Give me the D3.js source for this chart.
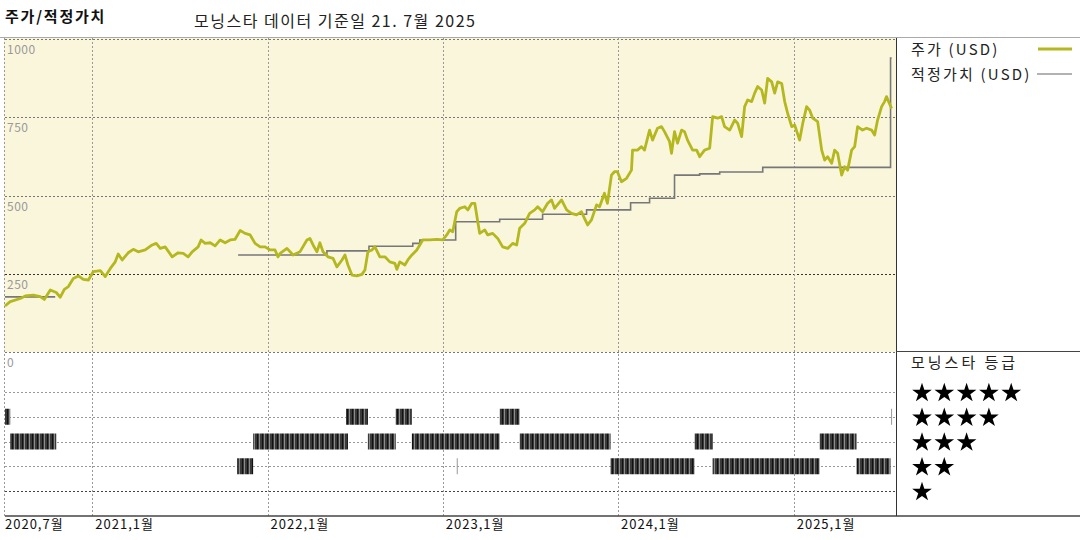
<!DOCTYPE html>
<html><head><meta charset="utf-8">
<script src="https://cdn.jsdelivr.net/npm/d3@7"></script>
<style>body{margin:0;background:#fff} svg{display:block}</style>
</head><body><svg id="c" width="1080" height="540"></svg>
<script>
// ---- data (dates given as decimal years) ----
const priceT = [2020.497,2020.527,2020.584,2020.613,2020.658,2020.698,2020.721,2020.755,2020.789,2020.812,2020.835,2020.858,2020.886,2020.915,2020.943,2020.972,
2021.000,2021.040,2021.068,2021.097,2021.125,2021.142,2021.165,2021.199,2021.228,2021.256,2021.296,2021.336,2021.359,2021.382,2021.410,2021.450,2021.484,2021.513,2021.541,2021.564,2021.598,2021.615,2021.638,2021.667,2021.695,2021.724,2021.752,2021.781,2021.809,2021.838,2021.866,2021.895,2021.923,2021.952,2021.980,
2022.009,2022.037,2022.054,2022.066,2022.105,2022.140,2022.179,2022.219,2022.236,2022.254,2022.276,2022.293,2022.311,2022.339,2022.368,2022.390,2022.419,2022.436,2022.453,2022.476,2022.504,2022.533,2022.550,2022.567,2022.590,2022.607,2022.635,2022.664,2022.692,2022.721,2022.732,2022.749,2022.778,2022.795,2022.818,2022.846,2022.863,2022.880,2022.920,2022.960,2022.994,
2023.017,2023.034,2023.051,2023.074,2023.091,2023.120,2023.137,2023.160,2023.177,2023.194,2023.205,2023.234,2023.251,2023.279,2023.308,2023.336,2023.365,2023.393,2023.416,2023.433,2023.462,2023.490,2023.519,2023.536,2023.564,2023.593,2023.615,2023.632,2023.672,2023.701,2023.729,2023.758,2023.786,2023.803,2023.821,2023.843,2023.872,2023.889,2023.917,2023.934,2023.957,2023.974,2023.991,
2024.014,2024.043,2024.071,2024.077,2024.105,2024.128,2024.145,2024.174,2024.191,2024.219,2024.242,2024.259,2024.288,2024.299,2024.316,2024.333,2024.356,2024.373,2024.390,2024.419,2024.442,2024.459,2024.487,2024.516,2024.533,2024.561,2024.584,2024.601,2024.630,2024.658,2024.675,2024.698,2024.715,2024.732,2024.755,2024.772,2024.789,2024.812,2024.829,2024.846,2024.869,2024.886,2024.903,2024.926,2024.943,2024.960,2024.983,
2025.000,2025.028,2025.046,2025.068,2025.085,2025.103,2025.131,2025.154,2025.171,2025.188,2025.211,2025.228,2025.245,2025.268,2025.285,2025.302,2025.325,2025.342,2025.359,2025.387,2025.410,2025.439,2025.456,2025.473,2025.496,2025.513,2025.524,2025.536,2025.553];
const priceV = [147,161,171,179,182,177,168,198,190,175,200,209,235,243,232,230,
257,260,241,267,288,313,294,317,328,320,326,342,347,331,336,304,317,315,304,320,336,358,347,349,339,358,349,358,360,388,379,374,347,336,336,
326,326,304,315,331,310,320,358,363,342,320,349,320,304,299,272,294,310,278,246,243,248,262,320,326,336,304,304,288,283,264,288,278,294,310,326,342,358,358,360,358,
374,390,384,448,459,464,454,475,475,416,379,390,374,379,363,336,331,347,342,395,411,443,454,464,448,475,486,459,486,454,443,438,448,427,406,422,470,464,507,475,565,576,576,
544,555,581,645,645,656,645,709,677,715,720,704,672,635,704,667,709,704,677,645,645,624,645,651,752,747,752,720,709,741,731,688,784,805,800,827,848,837,795,874,863,827,863,858,800,762,720,
725,677,731,784,773,747,736,645,613,624,603,645,635,565,592,581,645,656,720,709,715,709,693,741,784,800,816,800,778];

const fairT = [2020.497,2020.783,2020.800,2021.826,2022.333,2022.573,2022.823,2022.863,2023.068,2023.319,2023.564,2023.815,2024.066,2024.174,2024.316,2024.459,2024.573,2024.818,2025.547,2025.553];
const fairV = [176,176,null,310,323,338,347,358,416,424,440,454,477,491,565,569,575,590,939,939];

const ratingStart = [2020.497,2022.442,2022.726,2023.319,2025.550, 2020.527,2021.912,2022.567,2022.818,2023.433,2024.430,2025.142, 2021.821,2023.074,2023.952,2024.533,2025.353];
const ratingEnd   = [2020.527,2022.567,2022.818,2023.433,2025.553, 2020.789,2022.453,2022.726,2023.319,2023.952,2024.533,2025.353, 2021.912,2023.076,2024.430,2025.142,2025.547];
const ratingStars = [4,4,4,4,4, 3,3,3,3,3,3,3, 2,2,2,2,2];

const yTicks = [0,250,500,750,1000];
const xTickDates = ["2020-07-01","2021-01-01","2022-01-01","2023-01-01","2024-01-01","2025-01-01"];
const xTickLabels = ["2020,7월","2021,1월","2022,1월","2023,1월","2024,1월","2025,1월"];
const starLevels = [5,4,3,2,1];
const legendLabels = ["주가 (USD)","적정가치 (USD)"];

// ---- helpers ----
function dy(t){const y=Math.floor(t);const s=new Date(y,0,1),e=new Date(y+1,0,1);return new Date(+s+(t-y)*(e-s));}
function pd(s){const p=s.split("-");return new Date(+p[0],+p[1]-1,+p[2]);}

const svg = d3.select("#c");
const FONT = "'Noto Sans CJK KR','Noto Sans',sans-serif";
const x = d3.scaleTime().domain([new Date(2020,6,1), new Date(2025,6,31)]).range([5,896]);
const y = d3.scaleLinear().domain([0,1000]).range([352,39]);
const yr = d3.scalePoint().domain(starLevels).range([392,491]);

const defs = svg.append("defs");
const pat = defs.append("pattern").attr("id","stripes").attr("patternUnits","userSpaceOnUse").attr("width",5).attr("height",20);
pat.append("rect").attr("width",5).attr("height",20).attr("fill","#3a3a3a");
pat.append("rect").attr("x",2).attr("width",1).attr("height",20).attr("fill","#111");
pat.append("rect").attr("x",4).attr("width",1).attr("height",20).attr("fill","#8c8c8c");

// backgrounds
svg.append("rect").attr("x",x.range()[0]-1).attr("y",y(1000)-1).attr("width",x.range()[1]-x.range()[0]+1).attr("height",y(0)-y(1000)+1).attr("fill","#faf6dc");

// header
svg.append("text").attr("x",5).attr("y",22).attr("font-family",FONT).attr("font-size",15).attr("font-weight","bold").attr("letter-spacing",1.8).attr("fill","#111").text("주가/적정가치");
svg.append("text").attr("x",194).attr("y",27).attr("font-family",FONT).attr("font-size",16).attr("letter-spacing",1.5).attr("fill","#222").text("모닝스타 데이터 기준일 21. 7월 2025");
svg.append("line").attr("x1",0).attr("x2",1080).attr("y1",37.5).attr("y2",37.5).attr("stroke","#aaa");

// horizontal grid (price)
svg.append("g").selectAll("line").data(yTicks).join("line")
  .attr("x1",x.range()[0]).attr("x2",x.range()[1]).attr("y1",d=>Math.round(y(d))+0.5).attr("y2",d=>Math.round(y(d))+0.5)
  .attr("stroke",d=>d===250?"#333":"#777").attr("stroke-dasharray","2,2").attr("stroke-width",1);
svg.append("g").selectAll("text").data(yTicks).join("text")
  .attr("x",7).attr("y",d=>y(d)+15).attr("font-family",FONT).attr("font-size",12).attr("letter-spacing",0.5).attr("fill","#999").text(d=>d);

// rating grid rows
svg.append("g").selectAll("line").data(starLevels).join("line")
  .attr("x1",x.range()[0]).attr("x2",x.range()[1]).attr("y1",d=>Math.round(yr(d))+0.5).attr("y2",d=>Math.round(yr(d))+0.5)
  .attr("stroke",d=>d===1?"#444":"#999").attr("stroke-dasharray","2,2");

// vertical grid
svg.append("g").selectAll("line").data(xTickDates).join("line")
  .attr("x1",d=>Math.round(x(pd(d)))-0.5).attr("x2",d=>Math.round(x(pd(d)))-0.5).attr("y1",38).attr("y2",516)
  .attr("stroke","#999").attr("stroke-dasharray","2,2");

// x axis
svg.append("line").attr("x1",x.range()[0]).attr("x2",1080).attr("y1",516).attr("y2",516).attr("stroke","#444").attr("stroke-width",1.5);
svg.append("g").selectAll("text").data(xTickDates).join("text")
  .attr("x",(d,i)=>x(pd(d))+(i===0?0:2)).attr("y",529).attr("font-family",FONT).attr("font-size",13).attr("letter-spacing",1).attr("fill","#111")
  .text((d,i)=>xTickLabels[i]);

// rating bars
const rb = ratingStart.map((s,i)=>({s:dy(s),e:dy(ratingEnd[i]),r:ratingStars[i]}));
svg.append("g").selectAll("rect").data(rb).join("rect")
  .attr("x",d=>x(d.s)).attr("width",d=>Math.max(1,x(d.e)-x(d.s)))
  .attr("y",d=>yr(d.r)-8).attr("height",16)
  .attr("fill",d=>(x(d.e)-x(d.s))<2?"#999":"url(#stripes)");

// fair value step line
const fair = fairT.map((t,i)=>({d:dy(t),v:fairV[i]}));
svg.append("path").datum(fair)
  .attr("d",d3.line().defined(d=>d.v!=null).x(d=>x(d.d)).y(d=>y(d.v)).curve(d3.curveStepAfter))
  .attr("fill","none").attr("stroke","#777").attr("stroke-width",1.6);

// price line
const price = priceT.map((t,i)=>({d:dy(t),v:priceV[i]}));
svg.append("path").datum(price)
  .attr("d",d3.line().x(d=>x(d.d)).y(d=>y(d.v)))
  .attr("fill","none").attr("stroke","#b4b81e").attr("stroke-width",2.8).attr("stroke-linejoin","round");

// right panel frame
svg.append("line").attr("x1",896.5).attr("x2",896.5).attr("y1",38).attr("y2",516).attr("stroke","#333");
svg.append("line").attr("x1",896).attr("x2",1080).attr("y1",351.5).attr("y2",351.5).attr("stroke","#444");

// legend
const lg = svg.append("g");
lg.selectAll("text").data(legendLabels).join("text")
  .attr("x",911).attr("y",(d,i)=>55+i*25).attr("font-family",FONT).attr("font-size",15).attr("letter-spacing",2.2).attr("fill","#222").text(d=>d);
lg.append("line").attr("x1",1038).attr("x2",1072).attr("y1",49).attr("y2",49).attr("stroke","#b4b81e").attr("stroke-width",3);
lg.append("line").attr("x1",1037).attr("x2",1072).attr("y1",74).attr("y2",74).attr("stroke","#666").attr("stroke-width",1.2);

// rating legend
svg.append("text").attr("x",911).attr("y",368).attr("font-family",FONT).attr("font-size",15).attr("letter-spacing",3).attr("fill","#222").text("모닝스타 등급");
const star = d3.symbol(d3.symbolStar).size(120);
starLevels.forEach(n=>{
  svg.append("g").selectAll("path").data(d3.range(n)).join("path")
    .attr("d",star).attr("transform",k=>`translate(${922+k*22.3},${yr(n)+1})`).attr("fill","#000");
});
</script></body></html>
